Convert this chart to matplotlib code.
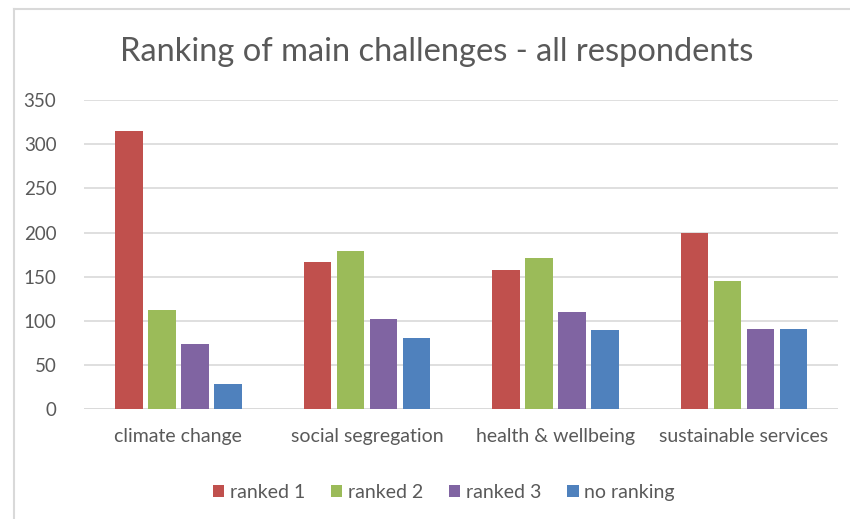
import numpy as np
import matplotlib.pyplot as plt
from matplotlib.lines import Line2D

categories = ['climate change', 'social segregation', 'health & wellbeing', 'sustainable services']
series = ['ranked 1', 'ranked 2', 'ranked 3', 'no ranking']
ranked_1 = [315, 167, 158, 200]
ranked_2 = [112, 179, 171, 145]
ranked_3 = [74, 102, 110, 91]
no_ranking = [28, 80, 89, 91]
colors = ['#c0504d', '#9bbb59', '#8064a2', '#4f81bd']

plt.rcParams['font.family'] = ['Lato', 'DejaVu Sans']

fig = plt.figure(figsize=(8.5, 5.19), dpi=100)
ax = fig.add_axes([0.099, 0.212, 0.887, 0.595])

x = np.arange(len(categories))
slot = 0.175
w = 0.145
for i, (vals, name) in enumerate(zip([ranked_1, ranked_2, ranked_3, no_ranking], series)):
    ax.bar(x + (i - 1.5) * slot, vals, width=w, color=colors[i], label=name, zorder=3)

ax.set_xlim(-0.5, 3.5)
ax.set_ylim(0, 350)
ax.set_yticks(range(0, 351, 50))
ax.set_xticks(x)
ax.set_xticklabels(categories)
ax.yaxis.grid(True, color='#d9d9d9', linewidth=1.2, zorder=0)
for s in ax.spines.values():
    s.set_visible(False)
ax.axhline(0, color='#d9d9d9', linewidth=1.2, zorder=2)
ax.tick_params(axis='both', length=0, colors='#595959')
ax.tick_params(axis='y', pad=20, labelsize=13.5)
ax.tick_params(axis='x', pad=14, labelsize=14)

fig.text(0.514, 0.9, 'Ranking of main challenges - all respondents',
         ha='center', va='center', fontsize=23.5, color='#595959')

leg = ax.legend(loc='upper center', bbox_to_anchor=(0.477, -0.185), ncol=4,
                frameon=False, fontsize=14, handlelength=0.6, handleheight=0.6,
                handletextpad=0.3, columnspacing=1.3)
for t in leg.get_texts():
    t.set_color('#595959')

# chart area border (left and top edges visible)
fig.add_artist(Line2D([0.016, 0.016], [0, 0.983], color='#d9d9d9', linewidth=1.5,
                      transform=fig.transFigure))
fig.add_artist(Line2D([0.016, 1.0], [0.983, 0.983], color='#d9d9d9', linewidth=1.5,
                      transform=fig.transFigure))

fig.savefig('out.png', dpi=100)
